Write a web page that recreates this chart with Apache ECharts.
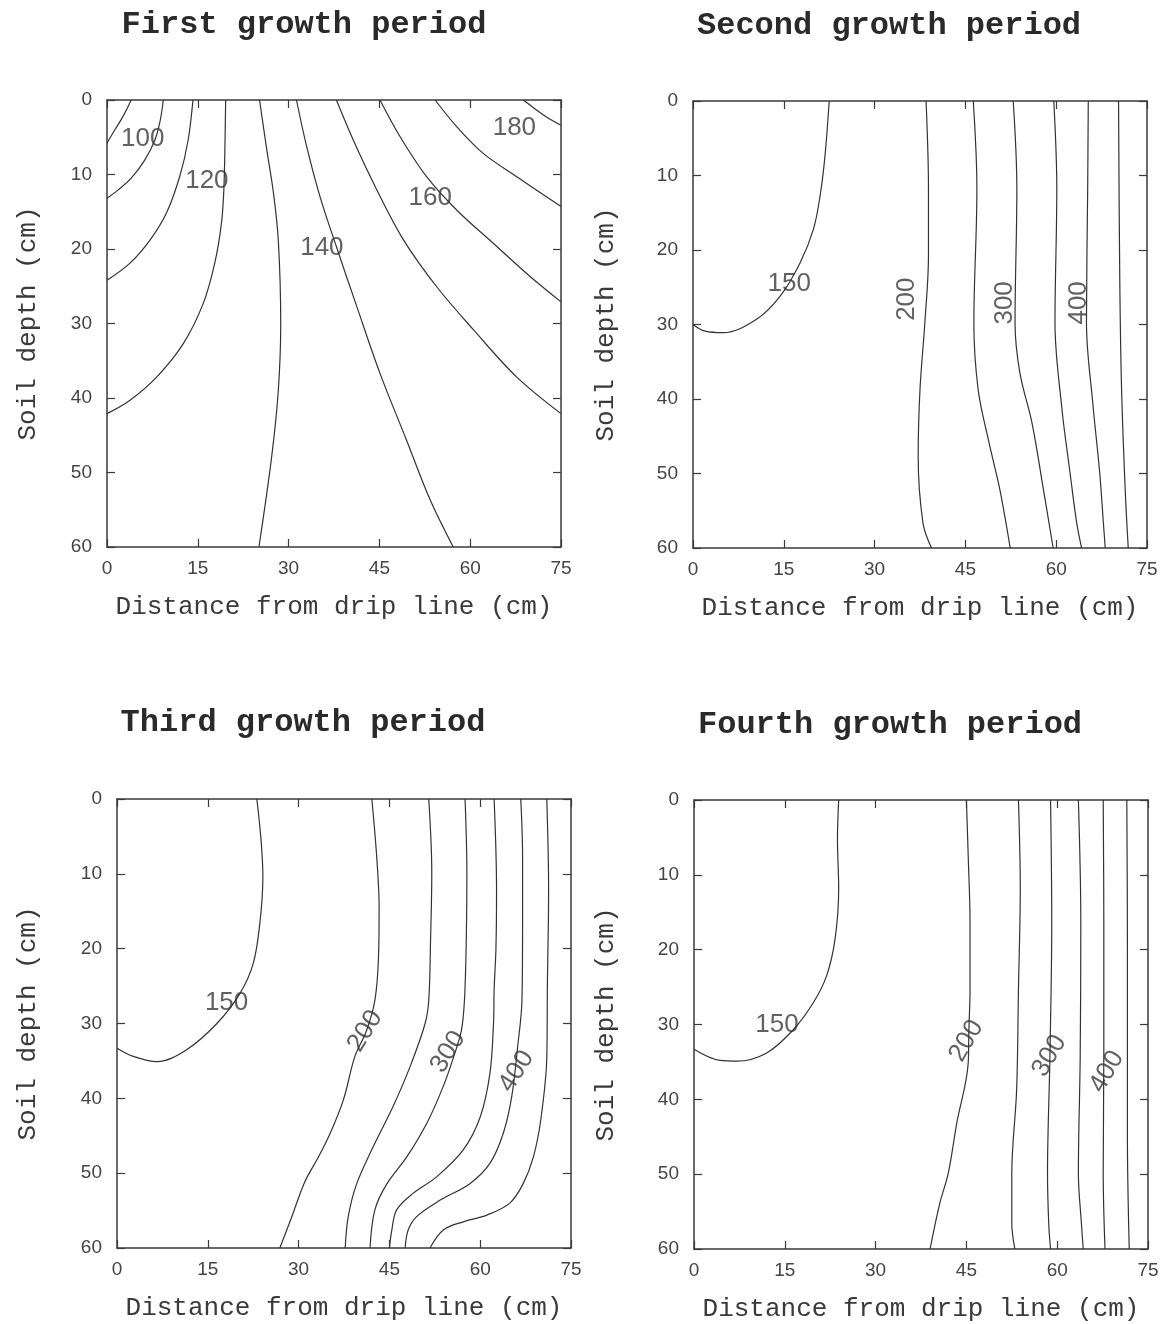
<!DOCTYPE html>
<html><head><meta charset="utf-8">
<script src="https://cdn.jsdelivr.net/npm/echarts@6/dist/echarts.min.js"></script>
<style>html,body{margin:0;padding:0;background:#fff}#c{width:1162px;height:1324px}</style>
</head><body><div id="c"></div>
<script>
// ---------- texts & ticks ----------
const panelTitles = ['First growth period', 'Second growth period', 'Third growth period', 'Fourth growth period'];
const xAxisTitle = 'Distance from drip line (cm)';
const yAxisTitle = 'Soil depth (cm)';
const xTickValues = [0, 15, 30, 45, 60, 75];
const yTickValues = [0, 10, 20, 30, 40, 50, 60];

// ---------- Panel 1 contours: [distance, depth] ----------
const p1_090 = [[4.0,0],[2.65,2.2],[1.3,4.0],[0,5.8]];
const p1_100 = [[9.3,0],[8.8,2.7],[7.9,5.4],[6.2,8.1],[4.0,10.5],[1.8,12.1],[0,13.2]];
const p1_110 = [[14.2,0],[13.4,5.4],[12.0,10.3],[9.8,15.2],[7.1,18.8],[3.8,21.9],[0,24.2]];
const p1_120 = [[19.6,0],[19.5,5.4],[19.3,12.1],[18.9,16.6],[17.8,21.9],[15.9,27.3],[12.6,32.7],[8.2,37.2],[3.8,40.3],[0,42.1]];
const p1_130 = [[25.2,0],[26.4,6.7],[27.5,12.5],[28.3,18.8],[28.7,30.0],[28.3,39.0],[27.2,47.9],[25.1,60]];
const p1_140 = [[31.3,0],[33.0,6.3],[35.2,13.0],[37.9,19.7],[41.3,27.8],[45.1,36.7],[49.5,45.7],[53.4,53.7],[57.2,60]];
const p1_150 = [[37.9,0],[40.7,5.4],[44.6,12.1],[49.0,18.8],[54.5,25.1],[60.6,30.9],[67.7,37.2],[75,42.1]];
const p1_160 = [[45.1,0],[48.4,4.9],[52.8,10.3],[57.8,14.8],[63.9,19.3],[69.9,23.7],[75,27.1]];
const p1_170 = [[54.2,0],[57.8,3.6],[62.2,7.2],[67.7,10.3],[75,14.3]];
const p1_180 = [[68.8,0],[72.1,2.0],[75,3.4]];
const p1Labels = [[5.9,5.2,'100'],[16.5,10.8,'120'],[35.5,19.8,'140'],[53.4,13.1,'160'],[67.3,3.7,'180']];
const p1LabelAngles = [0,0,0,0,0];

// ---------- Panel 2 ----------
const p2_150 = [[22.5,0],[21.8,7.4],[21.0,12.7],[19.9,17.2],[17.7,21.7],[14.4,26.2],[10.5,29.3],[5.0,31.1],[2.0,30.9],[0,30.0]];
const p2_200 = [[38.5,0],[38.9,11.8],[38.9,20.8],[38.3,29.8],[37.5,38.7],[37.2,47.7],[38.0,56.7],[39.4,60]];
const p2_250 = [[46.3,0],[46.9,11.8],[46.4,29.8],[47.1,38.7],[48.8,45.5],[50.7,52.2],[52.4,60]];
const p2_300 = [[52.9,0],[53.5,11.8],[53.2,29.8],[54.0,36.5],[56.0,43.2],[57.9,52.2],[59.5,60]];
const p2_350 = [[59.6,0],[60.1,11.8],[59.8,29.8],[60.9,41.0],[62.3,50.0],[63.4,56.7],[64.2,60]];
const p2_400 = [[65.3,0],[65.2,11.8],[65.0,29.8],[66.1,41.0],[67.2,50.0],[67.8,56.7],[68.1,60]];
const p2_450 = [[70.3,0],[70.5,23.8],[70.8,38.7],[71.4,52.2],[71.9,60]];
const p2Labels = [[15.9,24.5,'150'],[35.3,26.6,'200'],[51.5,27.1,'300'],[63.7,27.1,'400']];
const p2LabelAngles = [0,90,90,90];

// ---------- Panel 3 ----------
const p3_150 = [[23.1,0],[23.8,5.5],[24.1,10.4],[23.6,16.6],[22.5,22.0],[20.3,26.0],[16.5,30.0],[11.5,33.5],[6.6,35.1],[2.7,34.4],[0,33.3]];
const p3_200 = [[42.1,0],[42.9,7.7],[43.3,14.4],[43.2,21.1],[42.6,26.9],[41.2,31.0],[39.3,34.4],[37.4,40.2],[35.2,44.7],[33.3,47.8],[31.0,51.2],[28.8,56.0],[26.9,60]];
const p3_250 = [[51.5,0],[52.0,9.9],[51.8,18.8],[51.5,26.9],[50.9,30.0],[48.4,35.8],[45.6,41.1],[42.3,46.5],[39.6,51.4],[38.2,55.8],[37.7,60]];
const p3_300 = [[57.5,0],[57.8,9.9],[57.7,18.8],[57.4,26.9],[56.9,30.9],[55.6,34.5],[53.9,38.4],[51.2,43.3],[47.9,47.8],[44.6,51.4],[42.6,54.9],[41.8,60]];
const p3_350 = [[62.3,0],[62.7,12.2],[62.6,20.0],[62.3,25.5],[62.2,30.0],[61.6,36.7],[60.0,42.5],[57.2,46.9],[52.8,50.5],[48.9,52.7],[46.2,54.9],[45.4,57.6],[45.0,60]];
const p3_400 = [[66.7,0],[67.0,7.7],[67.0,16.4],[66.9,26.9],[66.2,33.0],[65.2,39.8],[63.8,44.7],[61.6,48.7],[58.3,51.4],[53.4,53.6],[49.5,55.8],[48.1,57.6],[47.6,60]];
const p3_450 = [[71.0,0],[71.3,12.2],[71.1,25.0],[71.0,34.6],[70.0,42.9],[68.8,47.8],[67.1,51.4],[64.9,54.0],[61.1,55.6],[57.2,56.5],[53.9,57.6],[51.7,60]];
const p3Labels = [[18.1,27.3,'150'],[41.0,31.0,'200'],[54.7,33.8,'300'],[66.0,36.4,'400']];
const p3LabelAngles = [0,58,58,58];

// ---------- Panel 4 ----------
const p4_150 = [[23.9,0],[23.7,5.2],[23.9,11.9],[23.3,18.6],[21.9,23.5],[19.7,27.1],[16.4,30.7],[12.0,33.8],[7.1,34.9],[4.3,34.8],[0,33.3]];
const p4_200 = [[45.0,0],[45.3,7.5],[45.6,16.4],[45.6,25.3],[45.4,31.0],[45.3,35.1],[43.4,43.2],[42.0,49.9],[40.6,53.9],[39.0,60]];
const p4_250 = [[53.6,0],[53.9,11.9],[53.6,25.3],[53.3,38.7],[52.5,49.9],[52.5,56.6],[53.0,60]];
const p4_300 = [[58.9,0],[59.1,16.4],[58.8,34.2],[58.4,49.9],[58.6,56.6],[58.9,60]];
const p4_350 = [[63.5,0],[63.9,16.4],[63.8,34.2],[63.5,49.9],[64.0,56.6],[64.3,60]];
const p4_400 = [[67.6,0],[67.7,16.4],[67.7,34.2],[67.6,49.9],[67.9,60]];
const p4_450 = [[71.5,0],[71.6,20],[71.6,45],[71.9,60]];
const p4Labels = [[13.7,30.0,'150'],[45.0,32.2,'200'],[58.7,34.2,'300'],[68.2,36.3,'400']];
const p4LabelAngles = [0,60,60,60];

const panelLines = [
  [p1_090,p1_100,p1_110,p1_120,p1_130,p1_140,p1_150,p1_160,p1_170,p1_180],
  [p2_150,p2_200,p2_250,p2_300,p2_350,p2_400,p2_450],
  [p3_150,p3_200,p3_250,p3_300,p3_350,p3_400,p3_450],
  [p4_150,p4_200,p4_250,p4_300,p4_350,p4_400,p4_450]
];
const panelLabels = [p1Labels, p2Labels, p3Labels, p4Labels];
const panelLabelAngles = [p1LabelAngles, p2LabelAngles, p3LabelAngles, p4LabelAngles];

// ---------- layout / styles ----------
const gridBoxes = [
  {left:107, top:100, width:454, height:447},
  {left:693, top:101, width:454, height:447},
  {left:117, top:799, width:454, height:449},
  {left:694, top:800, width:454, height:449}
];
const titlePos = [[304,25],[889,26],[303,723],[890,725]];
const yNameGap = [66, 74, 76, 75];
const INK = '#3a3a3a';
const monoFont = '"Liberation Mono", "DejaVu Sans Mono", monospace';
const sansFont = '"Liberation Sans", Arial, sans-serif';

const xAxes = [], yAxes = [], series = [], graphics = [];
const axisLineStyle = {show:true, onZero:false, lineStyle:{color:INK, width:1.5}};
const tickStyle = {show:true, inside:true, length:8, lineStyle:{color:INK, width:1.2}};

gridBoxes.forEach((g, i) => {
  xAxes.push({
    gridIndex:i, type:'value', min:xTickValues[0], max:xTickValues[xTickValues.length-1],
    interval:xTickValues[1]-xTickValues[0], position:'bottom',
    axisLine:axisLineStyle, axisTick:tickStyle, splitLine:{show:false},
    axisLabel:{show:true, margin:12, fontFamily:sansFont, fontSize:19, color:'#444'},
    name:xAxisTitle, nameLocation:'middle', nameGap:47,
    nameTextStyle:{fontFamily:monoFont, fontSize:26, color:'#3a3a3a'}
  });
  xAxes.push({
    gridIndex:i, type:'value', min:xTickValues[0], max:xTickValues[xTickValues.length-1],
    interval:xTickValues[1]-xTickValues[0], position:'top',
    axisLine:axisLineStyle, axisTick:tickStyle, splitLine:{show:false}, axisLabel:{show:false}
  });
  yAxes.push({
    gridIndex:i, type:'value', min:yTickValues[0], max:yTickValues[yTickValues.length-1],
    interval:yTickValues[1]-yTickValues[0], inverse:true, position:'left',
    axisLine:axisLineStyle, axisTick:tickStyle, splitLine:{show:false},
    axisLabel:{show:true, margin:15, fontFamily:sansFont, fontSize:19, color:'#444'},
    name:yAxisTitle, nameLocation:'middle', nameGap:yNameGap[i], nameRotate:90,
    nameTextStyle:{fontFamily:monoFont, fontSize:26, color:'#3a3a3a'}
  });
  yAxes.push({
    gridIndex:i, type:'value', min:yTickValues[0], max:yTickValues[yTickValues.length-1],
    interval:yTickValues[1]-yTickValues[0], inverse:true, position:'right',
    axisLine:axisLineStyle, axisTick:tickStyle, splitLine:{show:false}, axisLabel:{show:false}
  });

  panelLines[i].forEach(line => {
    series.push({
      type:'line', xAxisIndex:2*i, yAxisIndex:2*i, data:line,
      symbol:'none', showSymbol:false, smooth:0.35, clip:true, silent:true,
      lineStyle:{color:'#333', width:1.2}
    });
  });

  series.push({
    type:'scatter', xAxisIndex:2*i, yAxisIndex:2*i, symbolSize:0, silent:true,
    data: panelLabels[i].map((l, k) => ({
      value:[l[0], l[1]],
      label:{show:true, formatter:l[2], position:'inside', rotate:panelLabelAngles[i][k],
        fontFamily:sansFont, fontSize:26, color:'#3a3a3a'}
    }))
  });

  graphics.push({
    type:'text', x:titlePos[i][0], y:titlePos[i][1],
    style:{text:panelTitles[i], fill:'#2a2a2a', font:'bold 32px ' + monoFont,
      textAlign:'center', textVerticalAlign:'middle'}
  });
});

const chart = echarts.init(document.getElementById('c'), null, {renderer:'canvas'});
chart.setOption({
  animation:false,
  backgroundColor:'#ffffff',
  grid: gridBoxes.map(g => Object.assign({containLabel:false}, g)),
  xAxis: xAxes,
  yAxis: yAxes,
  series: series,
  graphic: graphics
});
</script>
</body></html>
